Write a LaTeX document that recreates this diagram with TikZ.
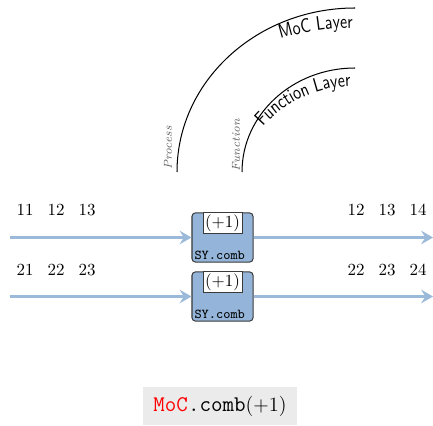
\documentclass[tikz,border=0pt]{standalone}
\usepackage{fontspec}
\newfontfamily\layerfont{lmsans10-regular.otf}[FakeStretch=0.81]
\usetikzlibrary{arrows.meta,decorations.text}
\definecolor{boxblue}{HTML}{94B5D9}
\definecolor{flowblue}{HTML}{9BBADA}
\definecolor{boxline}{HTML}{3A3A3A}
\definecolor{codebg}{HTML}{EBEBEB}
\tikzset{
  fbox/.style={draw=boxline, fill=boxblue, rounded corners=2pt, line width=0.6pt,
    minimum width=36pt, minimum height=29pt, inner sep=0pt},
  argbox/.style={draw=boxline, fill=white, line width=0.5pt, minimum width=23pt,
    minimum height=12.4pt, inner sep=0pt, anchor=north},
  fname/.style={anchor=south west, font=\ttfamily\footnotesize, inner sep=1.6pt},
  flow/.style={draw=flowblue, line width=1.8pt, -{Stealth[length=7pt,width=8pt,inset=2.5pt]}},
  tok/.style={inner sep=0pt, font=\normalsize},
  layerlbl/.style={rotate=90, font=\itshape\fontsize{6.8}{7}\selectfont, text=black!62},
  arcline/.style={draw=black, line width=0.6pt}
}
\begin{document}
\begin{tikzpicture}[x=0.59pt,y=0.59pt]
\useasboundingbox (0,0) rectangle (433,425);
% layer arcs
\draw[arcline] (177,253) arc[start angle=180,end angle=90,x radius=178,y radius=164];
\draw[arcline] (242,253) arc[start angle=180,end angle=90,x radius=113,y radius=104];
\path[decorate,decoration={text along path,text={|\layerfont\fontsize{11.6}{13}\selectfont|MoC Layer},text align=right}]
  (148,287) arc[start angle=150,end angle=90.5,x radius=239,y radius=220];
\path[decorate,decoration={text along path,text={|\layerfont\fontsize{11.6}{13}\selectfont|Function Layer},text align=right}]
  (237,230) arc[start angle=180,end angle=92,x radius=118,y radius=109];
\node[layerlbl] (lp) at (168,277) {Process};
\node[layerlbl] (lf) at (236,280) {Function};
% boxes
\node[fbox] (f1) at (222.5,187.5) {};
\node[argbox] (a1) at (f1.north) {$(+1)$};
\node[fname] (n1) at (f1.south west) {SY.comb};
\node[fbox] (f2) at (222.5,128.5) {};
\node[argbox] (a2) at (f2.north) {$(+1)$};
\node[fname] (n2) at (f2.south west) {SY.comb};
% flows
\coordinate (i1) at (10,187.5);
\coordinate (o1) at (433,187.5);
\coordinate (i2) at (10,128.5);
\coordinate (o2) at (433,128.5);
\draw[flow] (i1) -- (f1.west);
\draw[flow] (f1.east) -- (o1);
\draw[flow] (i2) -- (f2.west);
\draw[flow] (f2.east) -- (o2);
% tokens
\node[tok] (t11) at (25,215) {11};
\node[tok] (t12) at (56,215) {12};
\node[tok] (t13) at (87,215) {13};
\node[tok] (u12) at (356,215) {12};
\node[tok] (u13) at (387,215) {13};
\node[tok] (u14) at (418,215) {14};
\node[tok] (t21) at (25,155) {21};
\node[tok] (t22) at (56,155) {22};
\node[tok] (t23) at (87,155) {23};
\node[tok] (u22) at (356,155) {22};
\node[tok] (u23) at (387,155) {23};
\node[tok] (u24) at (418,155) {24};
% code caption
\node[fill=codebg, minimum width=91pt, minimum height=23pt, inner sep=0pt] (cap) at (220,19)
  {\fontsize{13.2}{15}\selectfont\ttfamily\textcolor{red}{MoC}.comb\fontsize{12.6}{15}\selectfont$(+1)$};
\end{tikzpicture}
\end{document}
